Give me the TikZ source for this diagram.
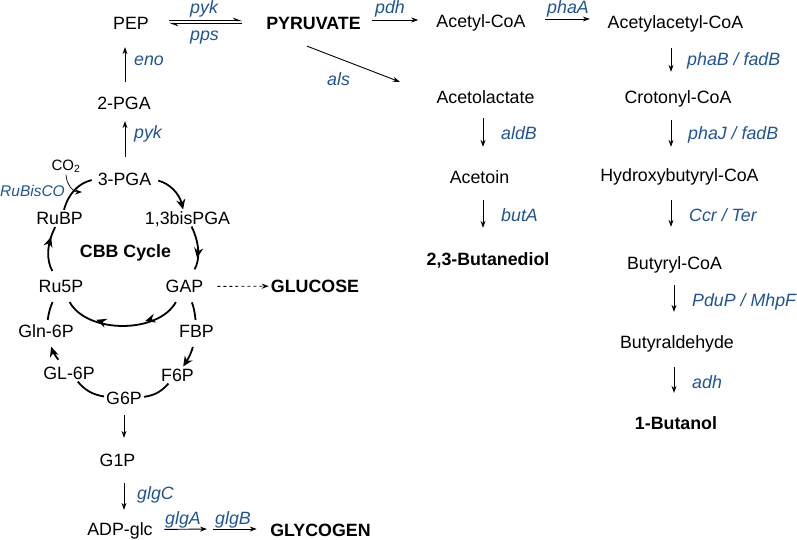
\documentclass[tikz,border=0pt]{standalone}
\usepackage{fontspec}
\setmainfont{Liberation Sans}
\usetikzlibrary{arrows.meta,decorations.markings}
\definecolor{enzblue}{RGB}{30,84,150}
\tikzset{
    %Define standard arrow tip
    >={Stealth[length=7pt,width=5pt]},
    %Define style for metabolites
    met/.style={
           inner sep=2pt,
           text height=12.7pt,
           text depth=0pt,
           font=\fontsize{17.8}{20}\selectfont},
    prod/.style={met, font=\fontsize{17.8}{20}\selectfont\bfseries},
    small/.style={inner sep=2pt, text height=10.7pt, text depth=0pt,
           font=\fontsize{15}{17}\selectfont},
    %Define style for enzyme labels
    enz/.style={
           anchor=base west,
           inner sep=0pt,
           text=enzblue,
           font=\fontsize{17.8}{20}\selectfont\itshape},
    % Define arrow styles
    pil/.style={->, line width=0.9pt},
    eqm/.style={line width=0.9pt, -{Stealth[harpoon,length=8pt,width=6pt]}},
    cyc/.style={line width=1.8pt},
    cyctip/.style={-{Stealth[length=10pt,width=9pt]}},
    midtip/.style={postaction={decorate},
           decoration={markings,
           mark=at position #1 with {\arrow{Stealth[length=10pt,width=9pt]}}}},
}
\begin{document}
\begin{tikzpicture}[x=1pt,y=1pt]
    \useasboundingbox (0,0) rectangle (797,-540);
    % glycolysis and products
    \node[met] (pep) at (131,-23) {PEP};
    \node[prod] (pyr) at (313.5,-23) {PYRUVATE};
    \node[met] (acoa) at (481,-21) {Acetyl-CoA};
    \node[met] (aacoa) at (675.5,-22) {Acetylacetyl-CoA};
    \node[met] (alac) at (485.5,-97) {Acetolactate};
    \node[met] (aceto) at (479.5,-177) {Acetoin};
    \node[prod] (bdo) at (488,-259) {2,3-Butanediol};
    \node[met] (croto) at (678,-97) {Crotonyl-CoA};
    \node[met] (hbcoa) at (679.5,-175) {Hydroxybutyryl-CoA};
    \node[met] (bcoa) at (674.5,-263) {Butyryl-CoA};
    \node[met] (bald) at (677,-342) {Butyraldehyde};
    \node[prod] (buoh) at (676,-423) {1-Butanol};
    \node[met] (pga2) at (124,-103) {2-PGA};
    \node[met] (pga3) at (124.5,-179) {3-PGA};
    \node[small] (co2) at (66,-165) {CO\textsubscript{2}};
    % CBB cycle
    \node[met] (rubp) at (59.5,-218.5) {RuBP};
    \node[met] (bpga) at (187.5,-218) {1,3bisPGA};
    \node[prod] (cbb) at (125.5,-251.5) {CBB Cycle};
    \node[met] (ru5p) at (61,-286.5) {Ru5P};
    \node[met] (gap) at (184.5,-286.5) {GAP};
    \node[prod] (glc) at (315,-286) {GLUCOSE};
    \node[met] (gln6p) at (46,-331.5) {Gln-6P};
    \node[met] (fbp) at (196.5,-331.5) {FBP};
    \node[met] (gl6p) at (69,-373) {GL-6P};
    \node[met] (f6p) at (177.5,-375) {F6P};
    \node[met] (g6p) at (124,-398) {G6P};
    \node[met] (g1p) at (117.5,-460) {G1P};
    \node[met] (adpg) at (120,-529.5) {ADP-glc};
    \node[prod] (glyc) at (320.5,-530) {GLYCOGEN};
    % columns for the straight arrows
    \coordinate (gcol) at (125,0);
    \coordinate (mcol) at (483,0);
    \coordinate (rcol) at (671,0);
    \coordinate (rcolb) at (674,0);
    \coordinate (glgmid) at (210,-529);
    \coordinate (rbfix) at (82,-192);

    % enzymes
    \node[enz] (pykup) at (190,-13.5) {pyk};
    \node[enz] (pps) at (190,-41) {pps};
    \node[enz] (eno) at (134,-66) {eno};
    \node[enz] (pyklow) at (134,-139) {pyk};
    \node[enz] (als) at (327,-86) {als};
    \node[enz] (pdh) at (375,-13.5) {pdh};
    \node[enz] (phaA) at (547,-13.3) {phaA};
    \node[enz] (aldB) at (501,-140) {aldB};
    \node[enz] (butA) at (501,-221) {butA};
    \node[enz] (phaB) at (687,-66) {phaB / fadB};
    \node[enz] (phaJ) at (688,-140) {phaJ / fadB};
    \node[enz] (ccr) at (689,-221) {Ccr / Ter};
    \node[enz] (pduP) at (692,-306) {PduP / MhpF};
    \node[enz] (adh) at (692,-388) {adh};
    \node[enz] (glgC) at (137,-499) {glgC};
    \node[enz] (glgA) at (165,-524) {glgA};
    \node[enz] (glgB) at (215,-524) {glgB};
    \node[enz, anchor=base east, font=\fontsize{15.5}{17}\selectfont\itshape] (rubisco) at (65,-196.7) {RuBisCO};

    % horizontal arrows
    \draw[eqm, shorten <=18pt, shorten >=22pt] ([yshift=2.3pt]pep.east) -- ([yshift=2.3pt]pyr.west);
    \draw[eqm, shorten <=22pt, shorten >=18pt] ([yshift=-0.3pt]pyr.west) -- ([yshift=-0.3pt]pep.east);
    \draw[pil, shorten <=9pt, shorten >=16pt] ([yshift=3pt]pyr.east) -- ([yshift=1pt]acoa.west);
    \draw[pil, shorten <=17.5pt, shorten >=15.7pt] ([yshift=2pt]acoa.east) -- ([yshift=3pt]aacoa.west);
    \draw[pil] ([xshift=-6.5pt,yshift=-14.6pt]pyr.south) -- ([xshift=-34.5pt,yshift=6.6pt]alac.north west);
    \draw[pil, dash pattern=on 3pt off 3pt, shorten <=12pt] (gap) -- (glc);
    \draw[pil, shorten <=9.5pt, shorten >=3pt] (adpg.east) -- (glgmid);
    \draw[pil, shorten <=3pt, shorten >=11.5pt] (glgmid) -- (glyc.west |- glgmid);

    % vertical arrows
    \draw[pil, shorten <=13.6pt, shorten >=9.6pt] (pga3.north -| gcol) -- (pga2.south -| gcol);
    \draw[pil, shorten <=12.6pt, shorten >=15.6pt] (pga2.north -| gcol) -- (pep.south -| gcol);
    \draw[pil, shorten <=8.6pt, shorten >=13.6pt] (g6p.south) -- (g6p.south |- g1p.north);
    \draw[pil, shorten <=14.6pt, shorten >=11.1pt] (g1p.south -| g6p) -- (adpg.north -| g6p);
    \draw[pil, shorten <=12.6pt, shorten >=21.6pt] (alac.south -| mcol) -- (aceto.north -| mcol);
    \draw[pil, shorten <=14.6pt, shorten >=22.6pt] (aceto.south -| mcol) -- (bdo.north -| mcol);
    \draw[pil, shorten <=17.6pt, shorten >=16.6pt] (aacoa.south -| rcol) -- (croto.north -| rcol);
    \draw[pil, shorten <=14.6pt, shorten >=19.6pt] (croto.south -| rcol) -- (hbcoa.north -| rcol);
    \draw[pil, shorten <=16.6pt, shorten >=27.6pt] (hbcoa.south -| rcol) -- (bcoa.north -| rcol);
    \draw[pil, shorten <=13.6pt, shorten >=21.6pt] (bcoa.south -| rcolb) -- (bald.north -| rcolb);
    \draw[pil, shorten <=16.6pt, shorten >=21.6pt] (bald.south -| rcolb) -- (buoh.north -| rcolb);

    % cycle
    \draw[cyc, cyctip, shorten <=5pt] (pga3) to[bend left=31] (bpga);
    \draw[cyc, midtip=0.6, shorten >=10pt] (bpga) to[bend left=28] (gap);
    \draw[cyc, shorten <=8pt, shorten >=8pt, postaction={decorate},
          decoration={markings,
          mark=at position 0.33 with {\arrow{Stealth[length=10pt,width=9pt]}},
          mark=at position 0.7 with {\arrow{Stealth[length=10pt,width=9pt]}}}]
          (gap) to[bend left=61] (ru5p);
    \draw[cyc, midtip=0.8, shorten <=8pt] (ru5p) to[bend left=28] (rubp);
    \draw[cyc, shorten >=4pt] (rubp) to[bend left=31] (pga3);
    \draw[->, line width=0.7pt, shorten <=2pt] (co2.south) to[out=-90,in=180] (rbfix);
    \draw[cyc, shorten <=8pt, shorten >=3pt] (gap) to[bend left=10] (fbp);
    \draw[cyc, cyctip, shorten <=7pt] (fbp) to[bend left=10] (f6p);
    \draw[cyc] (f6p) to[bend left=20] (g6p);
    \draw[cyc] (g6p) to[bend left=20] (gl6p);
    \draw[cyc, cyctip, shorten <=6pt, shorten >=7pt] (gl6p) to[bend left=10] (gln6p);
    \draw[cyc, shorten <=3pt, shorten >=8pt] (gln6p) to[bend left=10] (ru5p);
\end{tikzpicture}
\end{document}
